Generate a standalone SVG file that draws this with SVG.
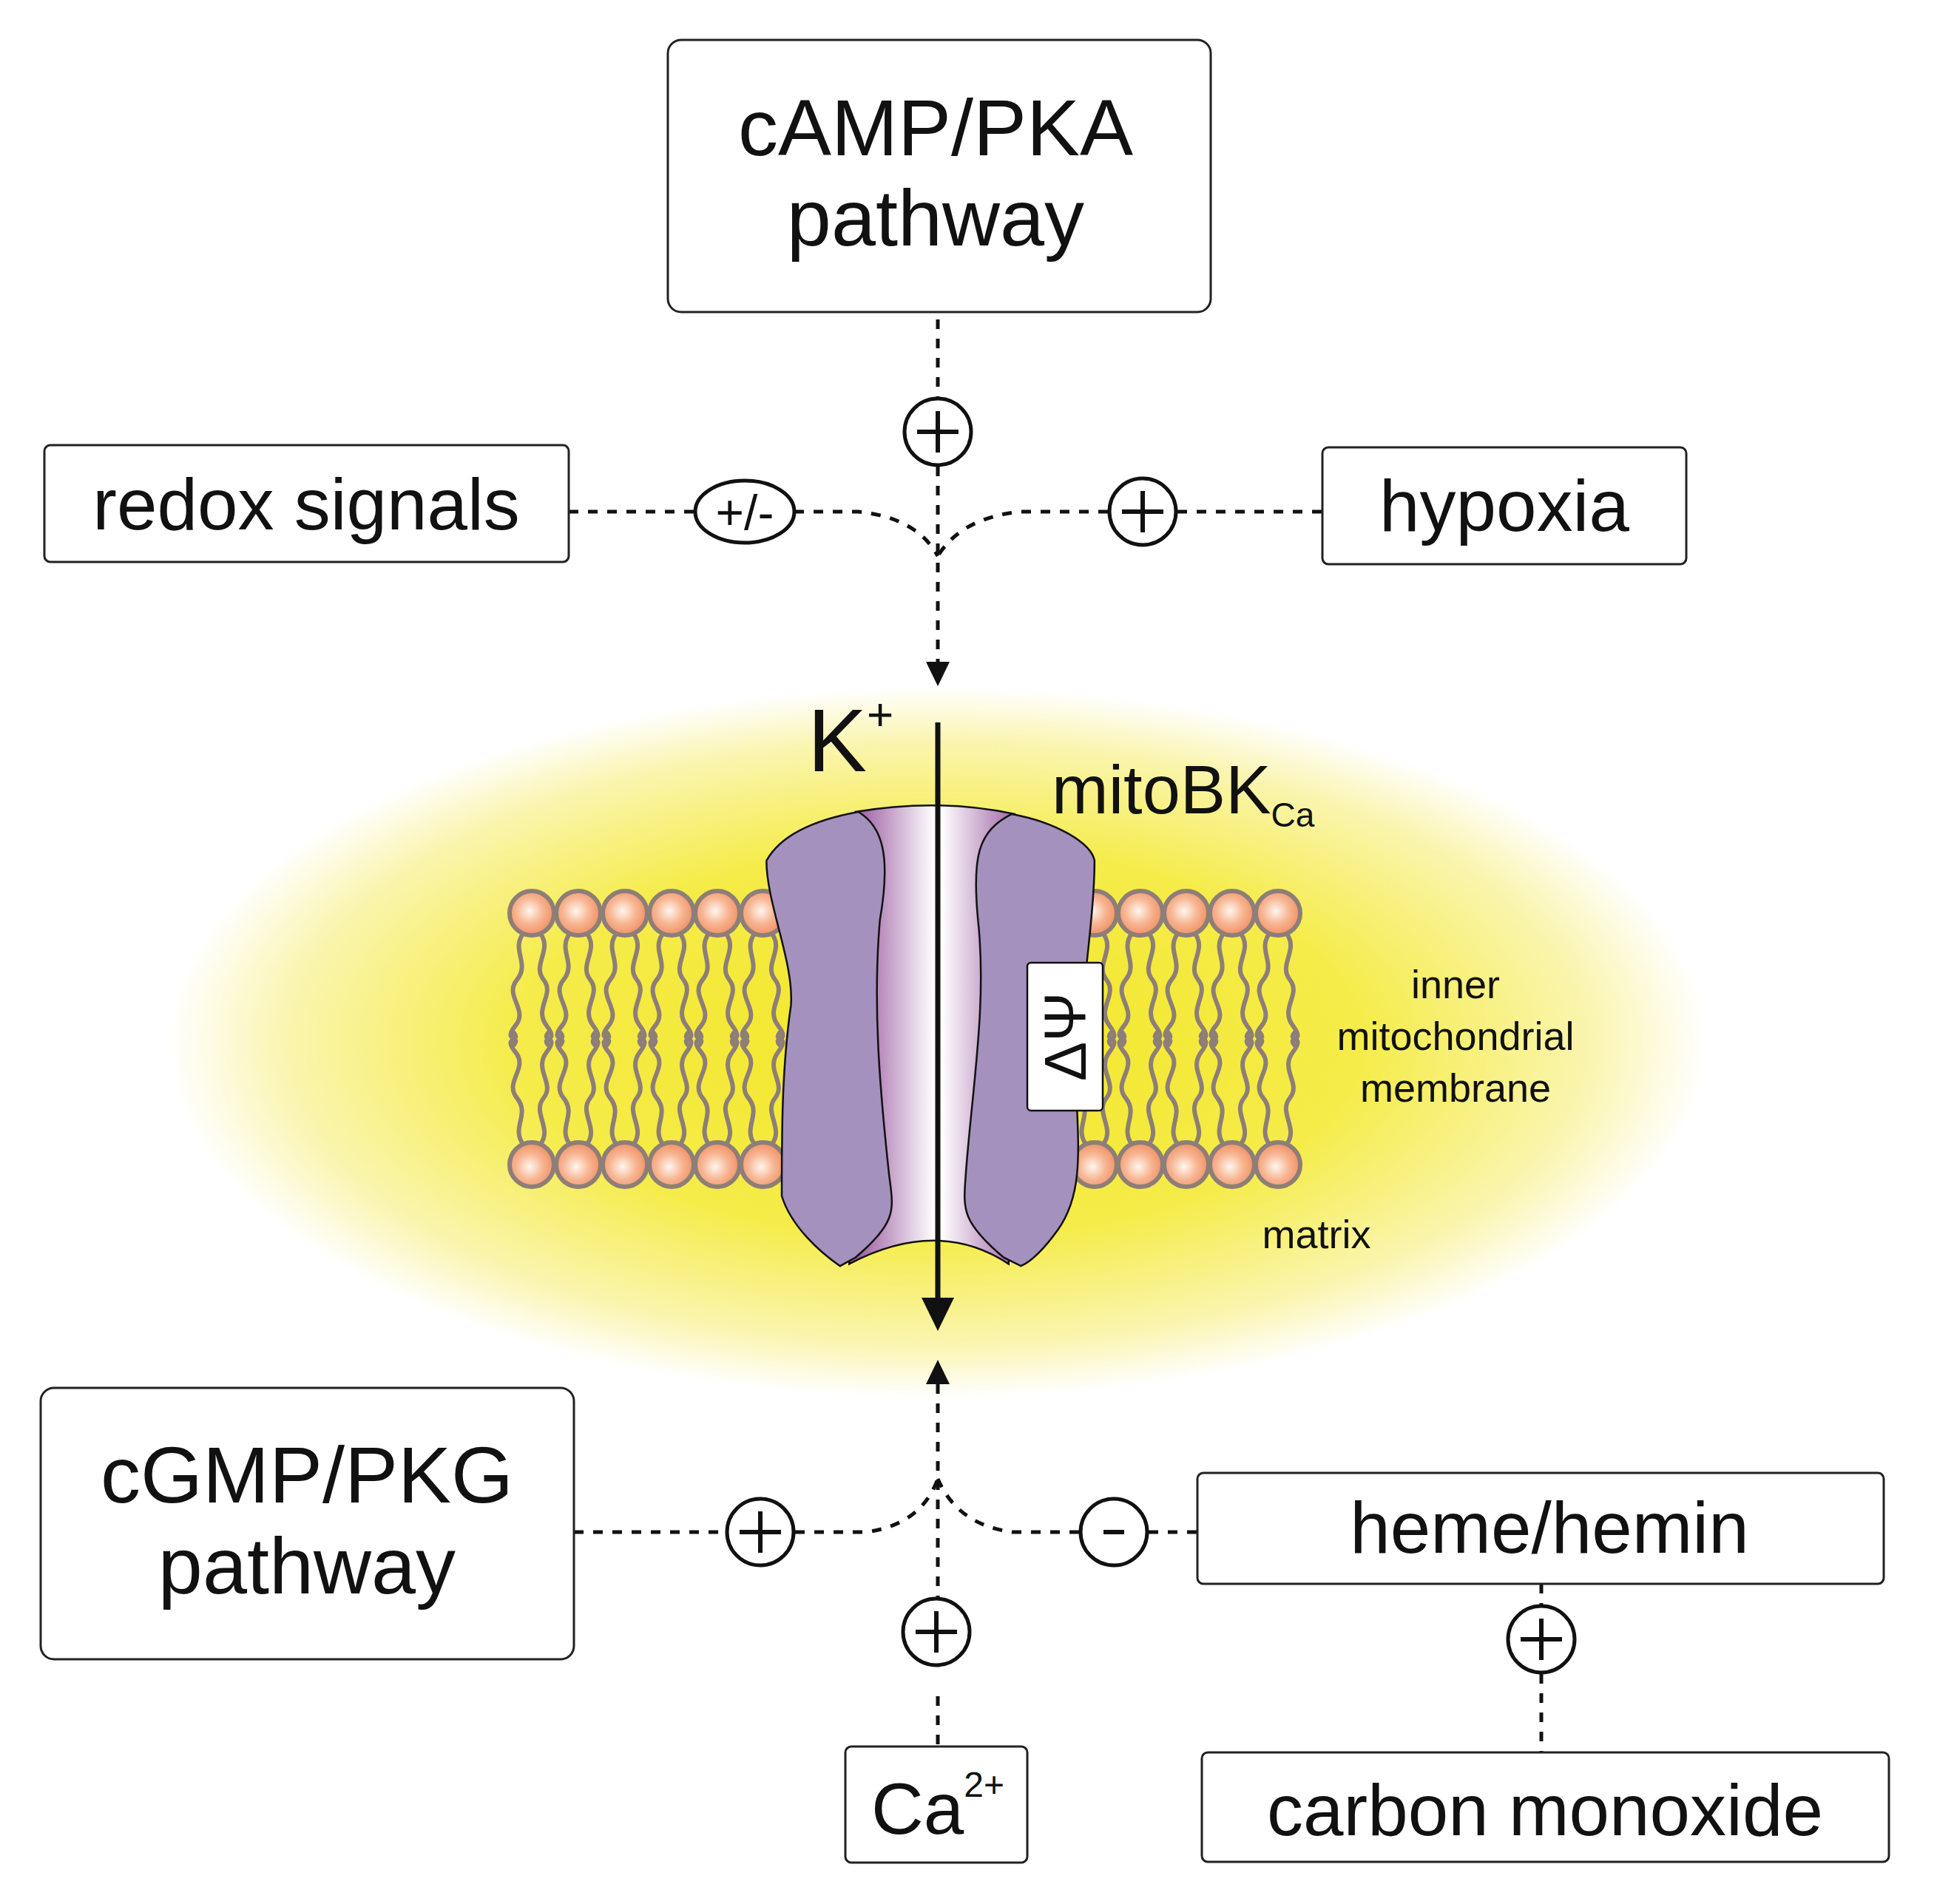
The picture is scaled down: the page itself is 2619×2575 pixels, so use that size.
<svg xmlns="http://www.w3.org/2000/svg" xmlns:xlink="http://www.w3.org/1999/xlink" width="2619" height="2575" viewBox="0 0 2619 2575">
<style>
.box{fill:#fff;stroke:#222;stroke-width:3}
.t{font-family:"Liberation Sans",Arial,sans-serif;fill:#111}
.dash{fill:none;stroke:#111;stroke-width:5;stroke-dasharray:13 13}
.sign{fill:#fff;stroke:#111;stroke-width:5}
.tail{fill:none;stroke:#8d7e78;stroke-width:6;stroke-linecap:round}
.lobe{fill:#a591bd;stroke:#111;stroke-width:2.5}
</style>
<defs>
<radialGradient id="glow" cx="0.5" cy="0.5" r="0.5">
<stop offset="0" stop-color="#f3e626"/>
<stop offset="0.55" stop-color="#f5ec4a"/>
<stop offset="0.85" stop-color="#faf5b0"/>
<stop offset="1" stop-color="#ffffff"/>
</radialGradient>
<radialGradient id="head" cx="0.45" cy="0.45" r="0.6">
<stop offset="0" stop-color="#fff6ee"/>
<stop offset="0.5" stop-color="#f7b592"/>
<stop offset="1" stop-color="#f08a5c"/>
</radialGradient>
<linearGradient id="pore" x1="600" y1="0" x2="870" y2="0" gradientUnits="userSpaceOnUse">
<stop offset="0" stop-color="#9a5aa0"/>
<stop offset="0.48" stop-color="#ffffff"/>
<stop offset="0.52" stop-color="#ffffff"/>
<stop offset="1" stop-color="#9a5aa0"/>
</linearGradient>
<g id="lipid">
<path class="tail" d="M-12,28 c-16,22 10,40 -8,62 s16,40 -2,62 s8,14 -2,26"/>
<path class="tail" d="M12,28 c16,22 -12,42 4,62 s-14,38 4,62 s-8,14 2,26"/>
<circle r="30" fill="url(#head)" stroke="#8d7e78" stroke-width="6"/>
</g>
</defs>
<rect width="2619" height="2575" fill="#fff"/>
<ellipse cx="1268" cy="1410" rx="1040" ry="480" fill="url(#glow)"/>

<g id="membrane">
<use xlink:href="#lipid" x="719" y="1235"/><use xlink:href="#lipid" x="782" y="1235"/><use xlink:href="#lipid" x="845" y="1235"/><use xlink:href="#lipid" x="908" y="1235"/><use xlink:href="#lipid" x="970" y="1235"/><use xlink:href="#lipid" x="1032" y="1235"/>
<use xlink:href="#lipid" x="1480" y="1235"/><use xlink:href="#lipid" x="1542" y="1235"/><use xlink:href="#lipid" x="1604" y="1235"/><use xlink:href="#lipid" x="1666" y="1235"/><use xlink:href="#lipid" x="1728" y="1235"/>
<g transform="translate(0,2810) scale(1,-1)">
<use xlink:href="#lipid" x="719" y="1235"/><use xlink:href="#lipid" x="782" y="1235"/><use xlink:href="#lipid" x="845" y="1235"/><use xlink:href="#lipid" x="908" y="1235"/><use xlink:href="#lipid" x="970" y="1235"/><use xlink:href="#lipid" x="1032" y="1235"/>
<use xlink:href="#lipid" x="1480" y="1235"/><use xlink:href="#lipid" x="1542" y="1235"/><use xlink:href="#lipid" x="1604" y="1235"/><use xlink:href="#lipid" x="1666" y="1235"/><use xlink:href="#lipid" x="1728" y="1235"/>
</g>
</g>

<g id="channel">
<g transform="translate(659,900) scale(0.8292,0.574)">
<path d="M600,345 Q735,312 860,350 L850,1410 Q735,1300 590,1410 Z" fill="url(#pore)" stroke="#111" stroke-width="2.5" vector-effect="non-scaling-stroke"/>
<path class="lobe" vector-effect="non-scaling-stroke" d="M605,345 C540,362 480,395 455,460 C455,560 500,700 495,800 C480,950 480,1100 480,1250 C495,1320 540,1380 575,1415 L600,1395 C670,1310 662,1280 655,1200 C640,1000 628,800 640,600 C658,450 645,380 605,345 Z"/>
<path class="lobe" vector-effect="non-scaling-stroke" d="M855,350 C930,370 985,420 990,460 C990,600 965,800 960,1000 C965,1150 970,1250 930,1330 C905,1380 885,1405 870,1415 L842,1395 C772,1310 776,1280 780,1200 C790,1000 815,800 800,600 C790,450 800,390 855,350 Z"/>
</g>
<rect x="1389" y="1302" width="102" height="200" rx="5" fill="#fff" stroke="#111" stroke-width="2.5"/>
<text class="t" transform="translate(1440,1402) rotate(-90)" text-anchor="middle" dy="28" font-family="Liberation Serif,serif" font-size="80">ΔΨ</text>
<line x1="1268" y1="977" x2="1268" y2="1760" stroke="#111" stroke-width="7"/>
<path d="M1246,1755 L1290,1755 L1268,1800 Z" fill="#111"/>
<text class="t" x="1092" y="1043" font-size="120">K<tspan font-size="62" dy="-56">+</tspan></text>
<text class="t" x="1422" y="1100" font-size="92">mitoBK<tspan font-size="46" dy="18">Ca</tspan></text>
</g>

<g id="labels">
<text class="t" x="1968" y="1350" font-size="54" text-anchor="middle">inner</text>
<text class="t" x="1968" y="1420" font-size="54" text-anchor="middle">mitochondrial</text>
<text class="t" x="1968" y="1490" font-size="54" text-anchor="middle">membrane</text>
<text class="t" x="1780" y="1688" font-size="54" text-anchor="middle">matrix</text>
</g>

<g id="connectors">
<line class="dash" x1="1268" y1="432" x2="1268" y2="537"/>
<line class="dash" x1="1268" y1="631" x2="1268" y2="895"/>
<path d="M1252,895 L1284,895 L1268,928 Z" fill="#111"/>
<line class="dash" x1="769" y1="692" x2="940" y2="692"/>
<path class="dash" d="M1074,692 L1160,692 Q1240,700 1268,752"/>
<path class="dash" d="M1498,692 L1380,692 Q1300,700 1268,752"/>
<line class="dash" x1="1592" y1="692" x2="1788" y2="692"/>
<path d="M1252,1872 L1284,1872 L1268,1839 Z" fill="#111"/>
<line class="dash" x1="1268" y1="1872" x2="1268" y2="2200"/>
<line class="dash" x1="1268" y1="2294" x2="1268" y2="2400"/>
<line class="dash" x1="776" y1="2072" x2="981" y2="2072"/>
<path class="dash" d="M1075,2072 L1170,2072 Q1245,2063 1268,2000"/>
<path class="dash" d="M1459,2072 L1370,2072 Q1295,2063 1268,2000"/>
<line class="dash" x1="1553" y1="2072" x2="1619" y2="2072"/>
<line class="dash" x1="2084" y1="2142" x2="2084" y2="2170"/>
<line class="dash" x1="2084" y1="2264" x2="2084" y2="2370"/>
</g>

<g id="signs">
<g id="s1"><circle class="sign" cx="1268" cy="584" r="45"/><path d="M1240,584 H1296 M1268,556 V612" stroke="#111" stroke-width="6"/></g>
<g id="s2"><ellipse class="sign" cx="1007" cy="692" rx="67" ry="42"/><text class="t" x="1007" y="716" font-size="66" text-anchor="middle">+/-</text></g>
<g id="s3"><circle class="sign" cx="1545" cy="692" r="45"/><path d="M1517,692 H1573 M1545,664 V720" stroke="#111" stroke-width="6"/></g>
<g id="s4"><circle class="sign" cx="1028" cy="2072" r="45"/><path d="M1000,2072 H1056 M1028,2044 V2100" stroke="#111" stroke-width="6"/></g>
<g id="s5"><circle class="sign" cx="1506" cy="2072" r="45"/><path d="M1492,2072 H1520" stroke="#111" stroke-width="6"/></g>
<g id="s6"><circle class="sign" cx="1266" cy="2207" r="45"/><path d="M1238,2207 H1294 M1266,2179 V2235" stroke="#111" stroke-width="6"/></g>
<g id="s7"><circle class="sign" cx="2084" cy="2217" r="45"/><path d="M2056,2217 H2112 M2084,2189 V2245" stroke="#111" stroke-width="6"/></g>
</g>

<g id="camp"><rect class="box" x="903" y="54" width="734" height="368" rx="18"/>
<text class="t" x="1265" y="210" font-size="108" text-anchor="middle">cAMP/PKA</text>
<text class="t" x="1265" y="332" font-size="108" text-anchor="middle">pathway</text></g>
<g id="redox"><rect class="box" x="60" y="602" width="709" height="158" rx="8"/>
<text class="t" x="414" y="716" font-size="98" text-anchor="middle">redox signals</text></g>
<g id="hypoxia"><rect class="box" x="1788" y="605" width="492" height="158" rx="8"/>
<text class="t" x="2034" y="718" font-size="98" text-anchor="middle">hypoxia</text></g>
<g id="cgmp"><rect class="box" x="55" y="1877" width="721" height="367" rx="18"/>
<text class="t" x="415" y="2032" font-size="108" text-anchor="middle">cGMP/PKG</text>
<text class="t" x="415" y="2155" font-size="108" text-anchor="middle">pathway</text></g>
<g id="heme"><rect class="box" x="1619" y="1992" width="928" height="150" rx="8"/>
<text class="t" x="2095" y="2100" font-size="98" text-anchor="middle">heme/hemin</text></g>
<g id="ca"><rect class="box" x="1143" y="2362" width="246" height="157" rx="8"/>
<text class="t" x="1178" y="2480" font-size="98">Ca<tspan font-size="48" dy="-50">2+</tspan></text></g>
<g id="co"><rect class="box" x="1625" y="2370" width="929" height="148" rx="8"/>
<text class="t" x="2089" y="2482" font-size="98" text-anchor="middle">carbon monoxide</text></g>
</svg>
